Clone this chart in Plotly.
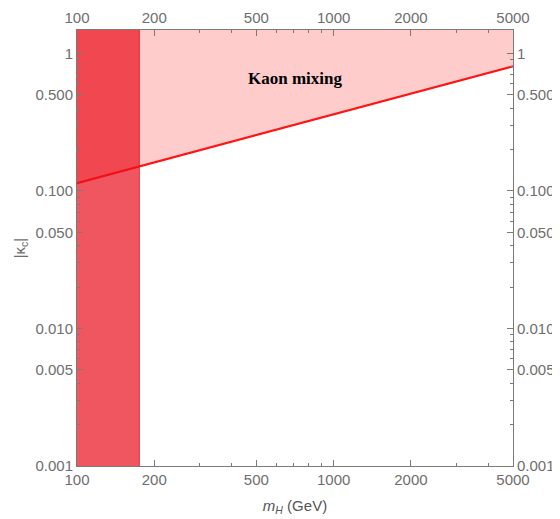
import numpy as np
import plotly.graph_objects as go

# ---- data ----
m_line = [100, 5000]          # GeV
kappa_line = [0.114, 0.805]   # Kaon-mixing bound |kappa_c|
band_x = [100, 175]           # excluded low-mass band (GeV)
y_top = 1.48
label_pos = (707, 0.66)       # location of the "Kaon mixing" label
x_major = [100, 200, 500, 1000, 2000, 5000]
x_major_text = ["100", "200", "500", "1000", "2000", "5000"]
x_minor = [300, 400, 600, 700, 800, 900, 3000, 4000]
y_major = [0.001, 0.005, 0.01, 0.05, 0.1, 0.5, 1]
y_major_text = ["0.001", "0.005", "0.010", "0.050", "0.100", "0.500", "1"]
y_minor = [v * 10.0**k for k in (-3, -2, -1) for v in (2, 3, 4, 6, 7, 8, 9)]

xr = [np.log10(m_line[0]), np.log10(m_line[1])]
yr = [np.log10(0.001), np.log10(y_top)]

fig = go.Figure()

# shaded excluded region above the line
fig.add_trace(go.Scatter(
    x=[m_line[0], m_line[1], m_line[1], m_line[0]],
    y=[kappa_line[0], kappa_line[1], y_top, y_top],
    fill="toself", fillcolor="rgb(255,204,204)", mode="none",
    hoverinfo="skip", showlegend=False))

# the bound line
fig.add_trace(go.Scatter(
    x=m_line, y=kappa_line, mode="lines",
    line=dict(color="rgb(255,20,20)", width=2.2),
    hoverinfo="skip", showlegend=False))

# low-mass band
fig.add_trace(go.Scatter(
    x=[band_x[0], band_x[1], band_x[1], band_x[0]],
    y=[0.001, 0.001, y_top, y_top],
    fill="toself", fillcolor="rgba(234,14,28,0.70)", mode="none",
    hoverinfo="skip", showlegend=False))
fig.add_trace(go.Scatter(
    x=[band_x[1], band_x[1]], y=[0.001, y_top], mode="lines",
    line=dict(color="rgba(230,20,30,0.8)", width=1),
    hoverinfo="skip", showlegend=False))

# dummy trace for secondary axes
fig.add_trace(go.Scatter(x=[m_line[0]], y=[0.001], xaxis="x2", yaxis="y2",
                         mode="markers", marker=dict(opacity=0),
                         hoverinfo="skip", showlegend=False))

tickfont = dict(family="Liberation Sans, Arial, sans-serif", size=15, color="#6e6e6e")
common = dict(type="log", showgrid=False, zeroline=False, showline=True,
              linecolor="#7a7a7a", linewidth=1, ticks="inside", ticklen=6,
              tickcolor="#7a7a7a", tickfont=tickfont, automargin=False)
minor = dict(ticklen=3, ticks="inside", tickcolor="#7a7a7a")

# page body has an 8px margin, so the figure is sized to fit in the window
fig.update_layout(
    width=552, height=511,
    margin=dict(l=69, r=47, t=22, b=53, autoexpand=False),
    paper_bgcolor="white", plot_bgcolor="white",
    xaxis=dict(range=xr, tickvals=x_major, ticktext=x_major_text,
               minor=dict(tickvals=x_minor, **minor),
               title=dict(text="<i>m<sub>H</sub></i> (GeV)", font=dict(
                   family="Liberation Sans, Arial, sans-serif", size=15, color="#555555"),
                   standoff=13),
               **common),
    xaxis2=dict(range=xr, overlaying="x", side="top", anchor="y",
                tickvals=x_major, ticktext=x_major_text,
                minor=dict(tickvals=x_minor, **minor),
                **common),
    yaxis=dict(range=yr, tickvals=y_major, ticktext=y_major_text,
               minor=dict(tickvals=y_minor, **minor),
               title=dict(text="|κ<sub>c</sub>|", font=dict(
                   family="Liberation Sans, Arial, sans-serif", size=15, color="#6e6e6e"),
                   standoff=6),
               **common),
    yaxis2=dict(range=yr, overlaying="y", side="right", anchor="x",
                tickvals=y_major, ticktext=y_major_text,
                minor=dict(tickvals=y_minor, **minor),
                **common),
    annotations=[dict(text="<b>Kaon mixing</b>", xref="x", yref="y",
                      x=np.log10(label_pos[0]), y=np.log10(label_pos[1]),
                      showarrow=False,
                      font=dict(family="Liberation Serif, Times New Roman, serif",
                                size=17, color="black"))],
)

fig.write_html("out.html")
